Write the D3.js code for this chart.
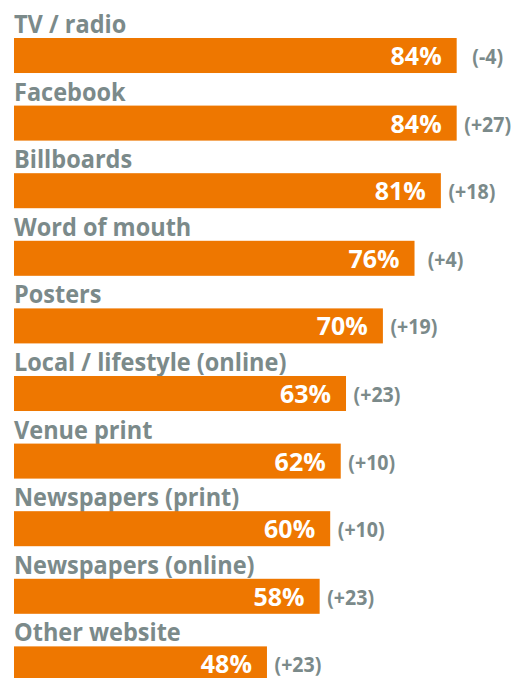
<!DOCTYPE html>
<html>
<head>
<meta charset="utf-8">
<script src="https://cdn.jsdelivr.net/npm/d3@7"></script>
<style>
  html, body { margin: 0; padding: 0; background: #ffffff; }
  svg { display: block; }
  text { font-family: "Open Sans", "Noto Sans", sans-serif; font-weight: 700; }
</style>
</head>
<body>
<svg id="chart" width="513" height="678"></svg>
<script>
// Channels and their reach (%), with the change versus the previous survey
const categories = [
  "TV / radio",
  "Facebook",
  "Billboards",
  "Word of mouth",
  "Posters",
  "Local / lifestyle (online)",
  "Venue print",
  "Newspapers (print)",
  "Newspapers (online)",
  "Other website"
];
const values = [84, 84, 81, 76, 70, 63, 62, 60, 58, 48];
const changes = ["(-4)", "(+27)", "(+18)", "(+4)", "(+19)", "(+23)", "(+10)", "(+10)", "(+23)", "(+23)"];

const data = categories.map((c, i) => ({ name: c, value: values[i], change: changes[i] }));

const barColor = "#ee7700";
const textColor = "#7b8a8a";

const svg = d3.select("#chart");

const x = d3.scaleLinear().domain([0, 100]).range([14, 541]);
const y = d3.scaleBand()
  .domain(categories)
  .range([38, 681.4])
  .paddingInner(0.482)
  .paddingOuter(0)
  .align(0);

const rows = svg.selectAll("g.row")
  .data(data)
  .join("g")
  .attr("class", "row")
  .attr("transform", d => `translate(0,${y(d.name)})`);

// Category label above each bar (slightly narrowed type)
rows.append("text")
  .attr("transform", `translate(${x(0)},-5) scale(0.94,1)`)
  .attr("fill", textColor)
  .attr("font-size", 25)
  .text(d => d.name);

// Bar
rows.append("rect")
  .attr("x", x(0))
  .attr("y", 0)
  .attr("width", d => x(d.value) - x(0))
  .attr("height", y.bandwidth())
  .attr("fill", barColor);

// Value inside the bar end
rows.append("text")
  .attr("x", d => x(d.value) - 15)
  .attr("y", 27)
  .attr("text-anchor", "end")
  .attr("fill", "#ffffff")
  .attr("font-size", 25)
  .text(d => d.value + "%");

// Change next to the bar
rows.append("text")
  .attr("transform", d => `translate(${x(d.value) + 31},26) scale(0.89,1)`)
  .attr("text-anchor", "middle")
  .attr("fill", textColor)
  .attr("font-size", 22)
  .text(d => d.change);
</script>
</body>
</html>
